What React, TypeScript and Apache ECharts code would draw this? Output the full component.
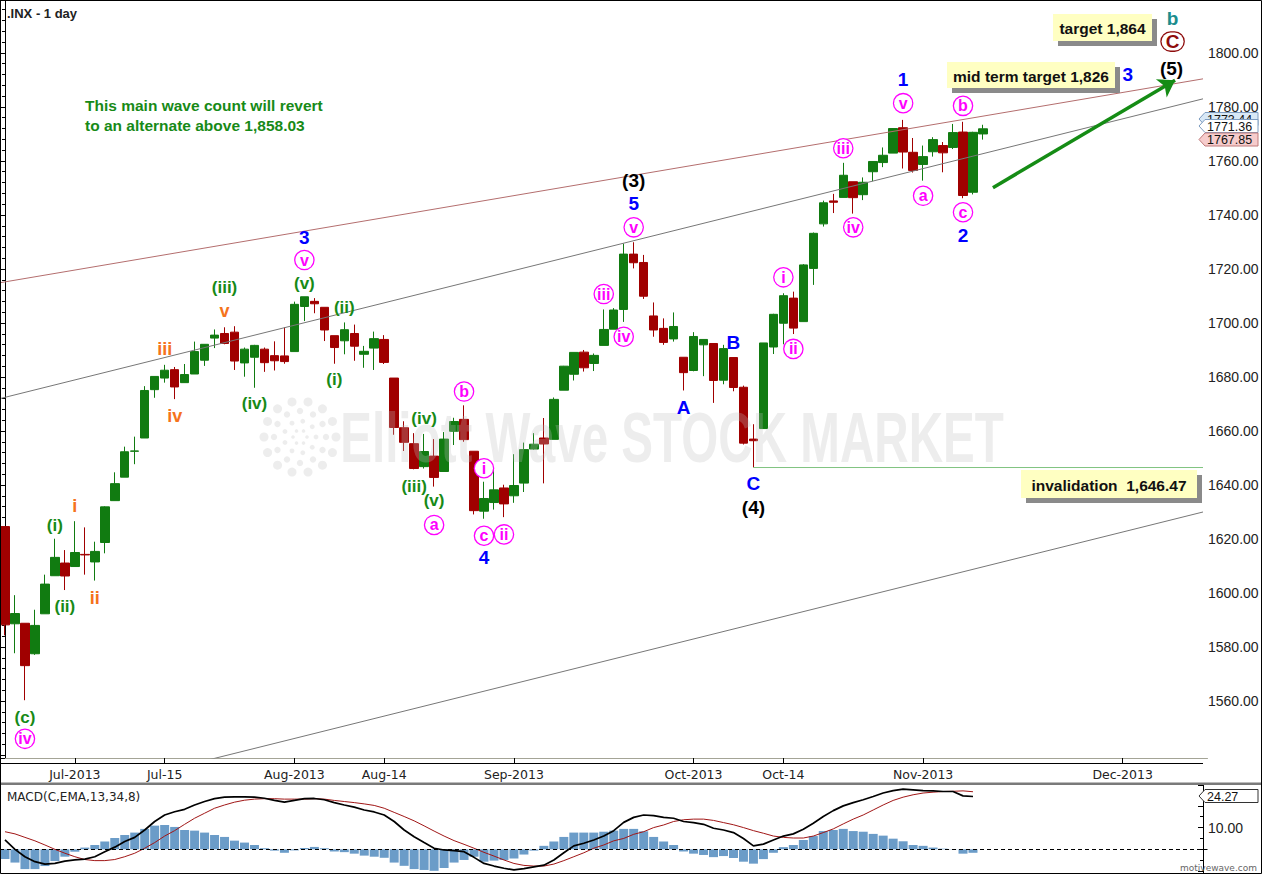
import { useEffect, useRef } from 'react';
import * as echarts from 'echarts';

// ---------- DATA ----------
const dates = [
  '06-20','06-21','06-24','06-25','06-26','06-27','06-28','07-01','07-02','07-03',
  '07-05','07-08','07-09','07-10','07-11','07-12','07-15','07-16','07-17','07-18',
  '07-19','07-22','07-23','07-24','07-25','07-26','07-29','07-30','07-31','08-01',
  '08-02','08-05','08-06','08-07','08-08','08-09','08-12','08-13','08-14','08-15',
  '08-16','08-19','08-20','08-21','08-22','08-23','08-26','08-27','08-28','08-29',
  '08-30','09-03','09-04','09-05','09-06','09-09','09-10','09-11','09-12','09-13',
  '09-16','09-17','09-18','09-19','09-20','09-24','09-25','09-26','09-30','10-01',
  '10-02','10-03','10-04','10-07','10-08','10-09','10-10','10-11','10-14','10-15',
  '10-16','10-17','10-18','10-21','10-22','10-23','10-24','10-25','10-28','10-29',
  '10-30','10-31','11-01','11-04','11-05','11-06','11-07','11-08','11-11','11-12',
  '11-13','11-14','11-15','11-18','11-19','11-20','11-21','11-22','11-25','11-26',
  '11-27','11-29','12-02','12-03','12-04','12-05','12-06','12-09','12-10','12-11',
  '12-12'
];

const opens = [
  1624.6,1588.6,1588.8,1577.5,1592.3,1606.4,1611.1,1609.8,1614.3,1611.5,
  1618.7,1634.2,1642.9,1652.5,1657.4,1675.3,1679.6,1682.7,1677.9,1681.1,
  1686.2,1694.4,1696.1,1696.6,1685.2,1687.3,1690.3,1687.9,1687.8,1689.4,
  1706.1,1708.0,1705.8,1695.3,1693.4,1696.1,1688.4,1690.7,1693.9,1679.6,
  1661.2,1655.3,1646.8,1650.7,1645.0,1659.9,1664.3,1652.5,1630.3,1633.5,
  1638.9,1636.0,1640.7,1653.3,1657.4,1656.9,1675.1,1681.0,1689.2,1685.0,
  1691.7,1697.7,1705.0,1725.5,1722.4,1702.6,1698.0,1694.1,1687.3,1682.4,
  1691.9,1692.4,1678.8,1687.2,1676.2,1657.0,1660.9,1691.1,1699.9,1709.2,
  1700.5,1720.2,1736.7,1745.2,1746.5,1752.3,1747.5,1756.0,1759.4,1762.9,
  1772.3,1763.2,1758.7,1763.4,1765.7,1765.0,1770.7,1748.4,1770.0
];
const highs = [
  1624.6,1599.2,1588.8,1593.8,1606.8,1620.1,1615.9,1626.6,1624.3,1619.0,
  1632.1,1644.7,1654.2,1657.9,1676.6,1680.2,1684.5,1683.7,1684.8,1693.1,
  1692.1,1697.6,1698.4,1698.8,1690.9,1691.9,1690.9,1693.2,1698.4,1707.9,
  1709.7,1709.2,1705.8,1695.3,1700.2,1699.4,1691.5,1696.8,1695.5,1679.6,
  1663.6,1659.2,1658.9,1657.0,1659.6,1664.9,1669.5,1652.5,1641.2,1646.4,
  1640.1,1651.4,1655.7,1659.2,1664.8,1672.4,1684.1,1689.1,1690.0,1688.7,
  1705.0,1705.5,1729.4,1729.9,1725.2,1707.6,1701.7,1703.9,1687.3,1696.6,
  1693.9,1692.4,1691.9,1687.2,1676.8,1662.5,1692.6,1703.4,1711.0,1711.6,
  1721.8,1733.5,1745.3,1747.8,1759.3,1752.3,1753.9,1759.8,1765.0,1772.1,
  1775.2,1768.5,1765.7,1768.8,1767.0,1773.7,1774.5,1770.8,1773.4
];
const lows = [
  1584.3,1577.7,1560.3,1577.1,1592.3,1606.4,1601.1,1609.8,1606.8,1604.6,
  1614.7,1634.2,1642.9,1647.7,1657.4,1672.3,1677.9,1671.8,1677.9,1681.1,
  1684.1,1690.7,1692.1,1682.6,1680.1,1676.0,1681.9,1682.4,1684.9,1689.4,
  1700.7,1703.6,1693.3,1684.9,1688.4,1686.0,1683.4,1682.6,1684.8,1658.6,
  1652.6,1645.8,1646.1,1639.4,1645.0,1654.8,1656.0,1629.1,1627.5,1630.9,
  1628.1,1633.4,1637.4,1653.1,1640.6,1656.9,1675.1,1678.7,1682.0,1682.2,
  1691.7,1697.7,1700.4,1720.2,1708.9,1694.9,1691.9,1693.1,1675.0,1682.1,
  1680.3,1670.4,1677.3,1674.7,1655.0,1646.5,1660.9,1688.5,1692.1,1695.9,
  1700.5,1714.1,1735.7,1740.7,1746.5,1740.5,1745.5,1752.5,1757.7,1762.9,
  1757.2,1755.7,1752.7,1761.6,1755.8,1764.4,1746.2,1747.6,1767.9
];
const closes = [
  1588.2,1592.4,1573.1,1588.0,1603.3,1613.2,1606.3,1615.0,1614.1,1615.4,
  1631.9,1640.5,1652.3,1652.6,1675.0,1680.2,1682.5,1676.3,1680.9,1689.4,
  1692.1,1695.5,1692.4,1685.9,1690.3,1691.7,1685.3,1686.0,1685.7,1706.9,
  1709.7,1707.1,1697.4,1690.9,1697.5,1691.4,1689.5,1694.2,1685.4,1661.3,
  1655.8,1646.1,1652.4,1642.8,1657.0,1663.5,1656.8,1630.5,1635.0,1638.2,
  1633.0,1639.8,1653.1,1655.1,1655.2,1671.7,1684.0,1689.1,1683.4,1688.0,
  1697.6,1704.8,1725.5,1722.3,1709.9,1697.4,1692.8,1698.7,1681.6,1695.0,
  1693.9,1678.7,1690.5,1676.1,1655.5,1656.4,1692.6,1703.2,1710.1,1698.1,
  1721.5,1733.2,1744.5,1744.7,1754.7,1746.4,1752.1,1759.8,1762.1,1772.0,
  1763.3,1756.5,1761.6,1767.9,1763.0,1770.5,1747.2,1770.6,1771.9
];

const macdLine = [
  4.3,0,-3.4,-5.7,-6.8,-6.5,-5.4,-4.9,-4.5,-3.4,
  -1.1,1.0,3.6,5.5,8.9,12.8,15.8,17.3,18.4,20.4,
  22.0,23.3,24.0,24.1,24.1,24.0,23.5,22.5,21.7,22.5,
  23.3,23.4,22.8,21.5,20.4,19.4,18.1,17.2,15.8,12.8,
  8.9,5.8,3.1,0.5,-0.3,-0.6,-1.1,-3.7,-6.5,-7.7,
  -8.7,-9.5,-8.9,-8.1,-7.3,-4.9,-1.6,1.6,2.8,4.3,
  6.1,8.6,12.4,14.7,15.8,15.5,14.7,14.3,12.8,12.3,
  11.5,9.7,8.9,7.7,5.0,1.6,2.4,4.3,6.1,7.1,
  9.2,12.0,15.1,17.8,20.0,21.5,22.8,24.3,25.9,27.0,
  27.7,27.4,27.0,26.9,26.6,26.6,24.6,24.3
];
const signalLine = [
  8.1,7.1,5.5,3.9,2.0,0,-1.8,-3.4,-4.7,-5.2,
  -5.2,-4.7,-3.4,-1.8,0.5,3.1,6.1,8.6,11.5,14.3,
  16.6,18.9,20.4,21.7,22.6,23.1,23.3,23.3,23.1,23.1,
  23.1,23.3,23.1,22.5,22.0,21.5,20.9,20.2,18.9,17.0,
  15.1,13.1,10.8,8.4,6.1,4.0,2.3,0.5,-1.4,-3.1,
  -4.9,-6.5,-7.4,-7.7,-7.7,-6.8,-5.2,-3.4,-1.6,0.5,
  2.0,3.9,5.0,6.9,8.1,10.0,11.2,12.8,13.6,13.9,
  13.9,13.3,12.3,11.3,10.0,8.6,7.4,6.1,5.5,5.2,
  5.2,6.1,7.7,9.4,11.7,13.9,15.8,18.1,20.4,22.5,
  24.0,25.1,25.9,26.3,26.6,26.7,26.9,26.5
];
const histogram = [
  -4.5,-6.1,-9.1,-9.1,-7.7,-5.4,-3.4,-1.1,0.8,2.0,
  3.6,5.2,6.6,7.7,9.4,10.9,11.2,10.3,8.9,8.6,
  7.7,6.6,5.7,4.0,3.1,2.0,0.5,-0.6,-1.6,-0.5,
  0.6,1.1,0.5,-1.0,-1.3,-2.0,-2.9,-3.4,-3.9,-6.1,
  -7.6,-9.1,-9.5,-9.9,-8.6,-6.1,-4.9,-3.4,-5.7,-5.2,
  -4.9,-4.2,-2.4,-0.6,1.6,3.6,5.7,7.7,7.7,7.7,
  8.1,8.6,9.4,9.4,8.3,5.7,3.6,2.0,-1.0,-2.0,
  -2.6,-3.6,-3.1,-4.0,-5.7,-6.6,-4.5,-1.6,1.0,2.0,
  4.3,6.1,8.4,8.9,9.4,8.4,8.1,7.1,6.3,4.9,
  3.7,2.0,1.6,0.8,0.3,0.1,-2.0,-1.6
];

const tickIndex = [7, 16, 29, 38, 51, 69, 78, 92, 112];
const tickLabels = ['Jul-2013', 'Jul-15', 'Aug-2013', 'Aug-14', 'Sep-2013', 'Oct-2013', 'Oct-14', 'Nov-2013', 'Dec-2013'];

// trend lines in [bar index, price]
const upperChannel = [[-0.5, 1714.9], [120.05, 1790.4]];
const middleLine = [[-0.5, 1672.0], [120.05, 1783.0]];
const lowerLine = [[18, 1536.0], [120.05, 1630.0]];
const invalidationLine = [[75, 1646.47], [120.05, 1646.47]];
const arrowPath = [[99.0, 1750.1], [117.25, 1789.9]];

// wave labels: [bar index, price, text, kind]
const annotations: [number, number, string, string][] = [
  [2, 1554, '(c)', 'g'], [2, 1546, 'iv', 'm'],
  [5, 1625, '(i)', 'g'], [6, 1595, '(ii)', 'g'],
  [7, 1632.2, 'i', 'o'], [9, 1598, 'ii', 'o'],
  [16, 1690.3, 'iii', 'o'], [17, 1665.7, 'iv', 'o'], [22, 1704.4, 'v', 'o'],
  [22, 1713.2, '(iii)', 'g'], [25, 1670.3, '(iv)', 'g'], [30, 1714.7, '(v)', 'g'],
  [30, 1723.3, 'v', 'm'], [30, 1731.7, '3', 'b'],
  [33, 1679.1, '(i)', 'g'], [34, 1705.7, '(ii)', 'g'],
  [41, 1639.6, '(iii)', 'g'], [42, 1664.7, '(iv)', 'g'], [43, 1634.1, '(v)', 'g'],
  [43, 1625.2, 'a', 'm'], [46, 1674.6, 'b', 'm'], [48, 1646.2, 'i', 'm'],
  [48, 1621.2, 'c', 'm'], [50, 1621.7, 'ii', 'm'], [48, 1613, '4', 'b'],
  [60, 1710.7, 'iii', 'm'], [62, 1694.9, 'iv', 'm'], [63, 1735.4, 'v', 'm'],
  [63, 1744.1, '5', 'b'], [63, 1752.6, '(3)', 'k'],
  [68, 1668.8, 'A', 'b'], [73, 1692.7, 'B', 'b'], [75, 1640.6, 'C', 'b'], [75, 1631.5, '(4)', 'k'],
  [78, 1716.9, 'i', 'm'], [79, 1690.4, 'ii', 'm'], [84, 1764.7, 'iii', 'm'], [85, 1735.4, 'iv', 'm'],
  [90, 1781.4, 'v', 'm'], [90, 1790, '1', 'b'],
  [92, 1747.1, 'a', 'm'], [96, 1780.4, 'b', 'm'], [96, 1741, 'c', 'm'], [96, 1732.3, '2', 'b'],
  [112.5, 1791.9, '3', 'b'], [116.9, 1794.3, '(5)', 'k'], [117, 1804.2, 'C', 'M'], [117, 1812.9, 'b', 't'],
];

// ---------- STYLE HELPERS ----------
const FONT = 'Liberation Sans';

function labelFor(kind: string, text: string): any {
  const base: any = { show: true, position: 'inside', fontFamily: FONT, fontWeight: 'bold', opacity: 1 };
  if (kind === 'm') {
    return {
      ...base,
      formatter: () => `{mc|${text}}`,
      rich: {
        mc: {
          color: '#ff00ff', fontSize: 16, fontWeight: 'bold', fontFamily: FONT,
          width: 18, height: 18, lineHeight: 18, align: 'center',
          borderColor: '#ff00ff', borderWidth: 1.3, borderRadius: 10, backgroundColor: '#ffffff',
        },
      },
    };
  }
  if (kind === 'M') {
    return {
      ...base,
      formatter: () => `{mr|${text}}`,
      rich: {
        mr: {
          color: '#8e0c0c', fontSize: 19, fontFamily: FONT,
          width: 22, height: 18, lineHeight: 18, align: 'center',
          borderColor: '#8e0c0c', borderWidth: 1.3, borderRadius: 11, backgroundColor: '#ffffff',
        },
      },
    };
  }
  const map: any = {
    g: { color: '#178a17', fontSize: 17 },
    o: { color: '#f5731c', fontSize: 18 },
    b: { color: '#0000ff', fontSize: 19 },
    k: { color: '#000000', fontSize: 19 },
    t: { color: '#1b8d8d', fontSize: 19 },
  };
  return { ...base, ...map[kind], formatter: () => text };
}

function txt(x: number, y: number, text: string, font: string, fill: string, align = 'left', z = 20, extra: any = {}) {
  return {
    type: 'text', x, y, z, silent: true, ...extra,
    style: { text, font, fill, align, textAlign: align, verticalAlign: 'middle', textVerticalAlign: 'middle' },
  };
}

function noteBox(x: number, y: number, w: number, h: number, text: string) {
  return [
    { type: 'rect', z: 20, silent: true, shape: { x: x + 5, y: y + 5, width: w, height: h }, style: { fill: '#8a8a8a' } },
    { type: 'rect', z: 21, silent: true, shape: { x, y, width: w, height: h }, style: { fill: '#ffffc2' } },
    txt(x + w / 2, y + h / 2 + 1, text, `bold 15.5px "${FONT}"`, '#111', 'center', 22),
  ];
}

function priceTag(cy: number, text: string, fill: string, stroke: string, z: number) {
  const x0 = 1199, x1 = 1205, x2 = 1258, h = 6.5;
  return [
    { type: 'polygon', z, silent: true, shape: { points: [[x0, cy], [x1, cy - h], [x2, cy - h], [x2, cy + h], [x1, cy + h]] }, style: { fill, stroke, lineWidth: 1 } },
    txt(x1 + 2, cy + 0.5, text, `12.5px "${FONT}"`, '#111', 'left', z + 1),
  ];
}

function buildOption(): any {
  const candleData = opens.map((o, i) => [o, closes[i], lows[i], highs[i]]);

  const dots: any[] = [];
  const rings = [[36, 14, 4.5], [26, 12, 3.2], [16, 9, 2.4], [7, 6, 1.8]];
  rings.forEach(([r, n, s]) => {
    for (let k = 0; k < n; k++) {
      const a = (k / n) * Math.PI * 2;
      dots.push({ type: 'circle', z: 5, silent: true, shape: { cx: 300 + r * Math.cos(a), cy: 437 + r * Math.sin(a), r: s }, style: { fill: 'rgba(190,190,190,0.28)' } });
    }
  });

  const graphics: any[] = [
    ...dots,
    {
      type: 'text', x: 672, y: 438, z: 5, scaleX: 0.68, silent: true,
      style: { text: 'Elliott Wave STOCK MARKET', font: `bold 70px "${FONT}"`, fill: 'rgba(190,190,190,0.28)', align: 'center', textAlign: 'center', verticalAlign: 'middle', textVerticalAlign: 'middle' },
    },
    // title
    txt(7, 13, '.INX - 1 day', `bold 13px "${FONT}"`, '#222'),
    // note
    txt(85, 105, 'This main wave count will revert', `bold 15.5px "${FONT}"`, '#178a17'),
    txt(85, 125, 'to an alternate above 1,858.03', `bold 15.5px "${FONT}"`, '#178a17'),
    // boxes
    ...noteBox(1053, 14, 99, 27, 'target 1,864'),
    ...noteBox(947, 62, 168, 26, 'mid term target 1,826'),
    ...noteBox(1021, 470, 176, 28, 'invalidation  1,646.47'),
    // price tags (stacked as in the reference; the first is partly covered)
    ...priceTag(119, '1773.44', '#d8e8f6', '#7d9cc0', 24),
    ...priceTag(126, '1771.36', '#ffffff', '#7d9cc0', 26),
    ...priceTag(139.5, '1767.85', '#f6cccc', '#c07a7a', 28),
    ...priceTag(796, '24.27', '#ffffff', '#333333', 26),
    // axis strip lines
    { type: 'line', z: 20, silent: true, shape: { x1: 0, y1: 763.5, x2: 1203, y2: 763.5 }, style: { stroke: '#000', lineWidth: 1 } },
    { type: 'rect', z: 20, silent: true, shape: { x: 0, y: 782.5, width: 1262, height: 2.5 }, style: { fill: '#7a7a7a' } },
    txt(7, 797, 'MACD(C,EMA,13,34,8)', '12px "DejaVu Sans"', '#222'),
    txt(1257, 868, 'motivewave.com', '9px "DejaVu Sans"', '#666', 'right'),
    // frame
    { type: 'rect', z: 40, silent: true, shape: { x: 0.5, y: 0.5, width: 1261, height: 873 }, style: { fill: 'none', stroke: '#000', lineWidth: 1 } },
  ];

  return {
    animation: false,
    backgroundColor: '#ffffff',
    grid: [
      { left: -2.5, width: 1210, top: 0, height: 758 },
      { left: -2.5, width: 1210, top: 785, height: 88 },
    ],
    xAxis: [
      {
        type: 'category', gridIndex: 0, data: dates, boundaryGap: true,
        axisLine: { show: true, lineStyle: { color: '#a4a496', width: 1 } },
        axisTick: { show: true, alignWithLabel: true, length: 5, interval: (i: number) => tickIndex.includes(i), lineStyle: { color: '#000' } },
        axisLabel: {
          show: true, interval: (i: number) => tickIndex.includes(i), margin: 10,
          formatter: (_v: string, i: number) => { const k = tickIndex.indexOf(i); return k >= 0 ? tickLabels[k] : ''; },
          fontSize: 12.5, fontFamily: 'DejaVu Sans', color: '#222',
        },
        splitLine: { show: false },
      },
      { type: 'category', gridIndex: 1, data: dates, boundaryGap: true, show: false },
      { type: 'value', gridIndex: 0, min: -0.5, max: 120.5, show: false },
    ],
    yAxis: [
      {
        type: 'value', gridIndex: 0, position: 'right', min: 1538.9, max: 1819.6, splitNumber: 14, offset: -4.5, scale: true,
        axisLine: { show: true, lineStyle: { color: '#000' } },
        axisTick: { show: true, inside: true, length: 5, lineStyle: { color: '#000' } },
        minorTick: { show: true, splitNumber: 5, length: 3, lineStyle: { color: '#000' } },
        splitLine: { show: false },
        axisLabel: { margin: 5, fontSize: 14, fontFamily: FONT, color: '#222', formatter: (v: number) => (v >= 1559 && v <= 1801 ? v.toFixed(2) : '') },
      },
      {
        type: 'value', gridIndex: 1, position: 'right', min: -10.9, max: 29.6, offset: -4.5, scale: true,
        axisLine: { show: true, lineStyle: { color: '#000' } },
        axisTick: { show: true, inside: true, length: 5, lineStyle: { color: '#000' } },
        minorTick: { show: true, splitNumber: 2, length: 3, lineStyle: { color: '#000' } },
        splitLine: { show: false },
        axisLabel: { margin: 5, fontSize: 14, fontFamily: FONT, color: '#222', formatter: (v: number) => (Math.abs(v - 10) < 0.01 ? '10.00' : '') },
      },
    ],
    series: [
      {
        type: 'candlestick', xAxisIndex: 0, yAxisIndex: 0, data: candleData, barWidth: 9, z: 2,
        itemStyle: { color: '#117b11', color0: '#a00000', borderColor: '#117b11', borderColor0: '#a00000', borderWidth: 1 },
      },
      { type: 'line', xAxisIndex: 2, yAxisIndex: 0, data: upperChannel, symbol: 'none', silent: true, z: 3, lineStyle: { color: '#b46e6e', width: 1 } },
      { type: 'line', xAxisIndex: 2, yAxisIndex: 0, data: middleLine, symbol: 'none', silent: true, z: 3, lineStyle: { color: '#777777', width: 1 } },
      { type: 'line', xAxisIndex: 2, yAxisIndex: 0, data: lowerLine, symbol: 'none', silent: true, z: 3, lineStyle: { color: '#777777', width: 1 } },
      {
        type: 'line', xAxisIndex: 2, yAxisIndex: 0, data: invalidationLine, symbol: 'none', silent: true, z: 3,
        lineStyle: { color: '#80c480', width: 1 },
        markLine: {
          silent: true, symbol: ['none', 'arrow'], symbolSize: 16, z: 6,
          lineStyle: { color: '#158c15', width: 3.5, type: 'solid' }, label: { show: false },
          data: [[{ coord: arrowPath[0] }, { coord: arrowPath[1] }]],
        },
      },
      {
        type: 'scatter', xAxisIndex: 2, yAxisIndex: 0, z: 10, symbolSize: 2, silent: true,
        itemStyle: { color: 'rgba(255,255,255,0)' },
        labelLayout: { hideOverlap: false },
        data: annotations.map(([x, y, t, k]) => ({ value: [x, y], label: labelFor(k, t) })),
      },
      {
        type: 'bar', xAxisIndex: 1, yAxisIndex: 1, data: histogram, barWidth: 9, itemStyle: { color: '#6b9cc8' }, silent: true,
        markLine: { silent: true, symbol: 'none', data: [{ yAxis: 0 }], lineStyle: { color: '#000', type: [4, 3], width: 1 }, label: { show: false } },
      },
      { type: 'line', xAxisIndex: 1, yAxisIndex: 1, data: signalLine, symbol: 'none', silent: true, lineStyle: { color: '#a01616', width: 1 } },
      { type: 'line', xAxisIndex: 1, yAxisIndex: 1, data: macdLine, symbol: 'none', silent: true, lineStyle: { color: '#000000', width: 1.7 } },
    ],
    graphic: { elements: graphics },
  };
}

export default function App() {
  const ref = useRef<HTMLDivElement>(null);
  useEffect(() => {
    if (!ref.current) return;
    const chart = echarts.init(ref.current, null, { renderer: 'svg' });
    chart.setOption(buildOption());
    return () => chart.dispose();
  }, []);
  return <div ref={ref} style={{ position: 'fixed', left: 0, top: 0, width: 1262, height: 875, background: '#fff' }} />;
}
